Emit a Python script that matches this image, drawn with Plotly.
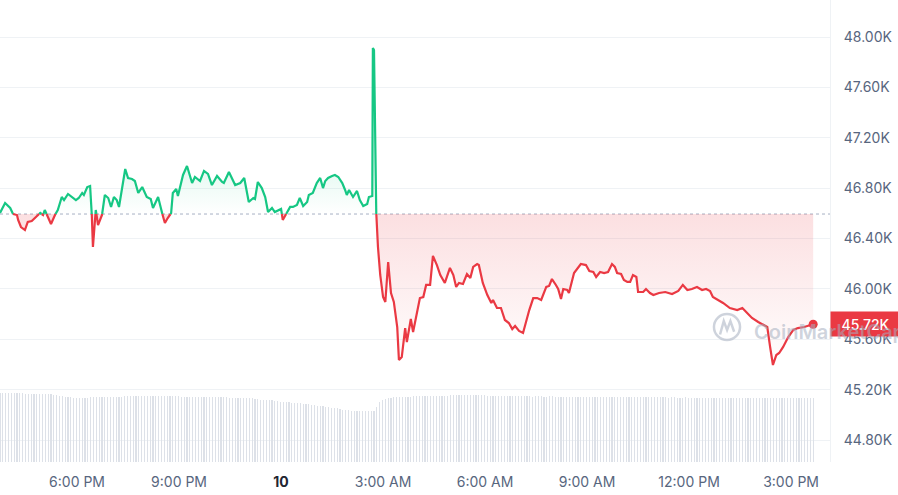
import plotly.graph_objects as go
import pandas as pd

START = pd.Timestamp("2024-02-09 15:44")

# minutes after START
minutes = [
    0, 9, 18, 23, 30, 32, 37, 44, 49, 56,
    65, 71, 76, 79, 83, 90, 97, 102, 109, 113,
    120, 127, 134, 139, 145, 148, 154, 159, 162, 164,
    169, 173, 180, 185, 191, 196, 201, 206, 210, 215,
    221, 226, 233, 238, 244, 251, 259, 266, 270, 279,
    286, 291, 296, 302, 305, 311, 314, 323, 330, 339,
    344, 353, 360, 367, 374, 383, 392, 395, 404, 415,
    424, 431, 439, 447, 450, 455, 462, 468, 473, 480,
    485, 491, 496, 499, 507, 512, 517, 524, 529, 535,
    542, 545, 552, 559, 565, 570, 574, 579, 586, 591,
    597, 604, 609, 612, 616, 623, 630, 635, 641, 648,
    651, 657, 658, 660, 664, 667, 671, 676, 680, 685,
    690, 695, 701, 704, 709, 715, 718, 725, 729, 736,
    741, 747, 752, 759, 764, 771, 777, 785, 794, 800,
    805, 810, 817, 824, 830, 835, 842, 845, 852, 860,
    867, 870, 877, 884, 891, 898, 904, 909, 916, 923,
    928, 934, 941, 948, 955, 964, 969, 974, 981, 985,
    990, 994, 1001, 1004, 1013, 1018, 1025, 1034, 1040, 1047,
    1052, 1059, 1066, 1073, 1080, 1085, 1089, 1096, 1101, 1107,
    1112, 1117, 1123, 1126, 1135, 1140, 1147, 1153, 1163, 1174,
    1186, 1197, 1205, 1213, 1221, 1230, 1239, 1246, 1253, 1258,
    1276, 1288, 1301, 1310, 1318, 1327, 1338, 1347, 1354, 1359,
    1364, 1370, 1375, 1382, 1391, 1400, 1408, 1419, 1435,
]

prices = [
    46603, 46682, 46643, 46595, 46587, 46548, 46492, 46468, 46532, 46540,
    46579, 46603, 46587, 46627, 46587, 46516, 46587, 46627, 46730, 46706,
    46754, 46730, 46706, 46722, 46762, 46746, 46809, 46817, 46587, 46333,
    46627, 46508, 46587, 46746, 46722, 46651, 46730, 46706, 46651, 46786,
    46952, 46881, 46873, 46857, 46762, 46809, 46730, 46714, 46643, 46730,
    46603, 46524, 46563, 46603, 46762, 46794, 46738, 46905, 46976, 46841,
    46889, 46857, 46937, 46913, 46825, 46897, 46849, 46841, 46929, 46825,
    46841, 46881, 46690, 46722, 46714, 46849, 46801, 46730, 46611, 46643,
    46611, 46627, 46635, 46548, 46611, 46651, 46651, 46667, 46722, 46659,
    46690, 46746, 46762, 46841, 46881, 46801, 46857, 46881, 46897, 46905,
    46889, 46841, 46786, 46746, 46786, 46730, 46778, 46706, 46659, 46675,
    46730, 46738, 47913, 47897, 46603, 46333, 46111, 45936, 45897, 46214,
    45968, 45897, 45698, 45436, 45460, 45690, 45579, 45762, 45659, 45833,
    45928, 45936, 46032, 46032, 46262, 46190, 46111, 46048, 46167, 46111,
    46016, 46048, 46040, 46119, 46087, 46175, 46198, 46190, 46048, 45952,
    45889, 45913, 45849, 45849, 45754, 45730, 45682, 45706, 45667, 45651,
    45738, 45833, 45928, 45928, 45913, 46016, 46024, 46079, 46032, 46000,
    45920, 46000, 45992, 45968, 46127, 46159, 46198, 46190, 46143, 46135,
    46095, 46135, 46127, 46135, 46198, 46175, 46127, 46119, 46071, 46056,
    46056, 46111, 46095, 45976, 45976, 46000, 45968, 45952, 45968, 45976,
    45960, 45984, 46032, 45992, 46000, 46016, 45992, 46000, 45984, 45936,
    45889, 45849, 45833, 45849, 45809, 45770, 45738, 45714, 45698, 45540,
    45397, 45476, 45492, 45540, 45619, 45675, 45690, 45698, 45720,
]

open_price = 46595
last_price = 45720
last_label = "45.72K"

# 24h volume (billion USD), one bar per 5 minutes
volume_bn = [
    34.5, 34.6, 34.5, 34.5, 34.4, 34.5, 34.5, 34.4, 34.3, 34.2,
    34.0, 34.0, 34.1, 34.0, 33.9, 34.0, 34.0, 33.9, 33.8, 33.6,
    33.4, 33.2, 33.0, 32.7, 32.5, 32.4, 32.1, 32.0, 32.0, 31.9,
    32.0, 32.2, 32.4, 32.5, 32.5, 32.6, 32.5, 32.5, 32.6, 32.6,
    32.5, 32.5, 32.6, 32.7, 32.8, 32.8, 32.9, 33.0, 33.0, 33.0,
    33.0, 33.1, 33.0, 33.0, 33.0, 33.0, 33.0, 32.9, 33.0, 33.0,
    32.9, 32.9, 32.8, 32.8, 32.7, 32.7, 32.6, 32.5, 32.5, 32.5,
    32.5, 32.6, 32.5, 32.5, 32.4, 32.4, 32.5, 32.4, 32.3, 32.3,
    32.3, 32.2, 32.2, 32.1, 32.2, 32.1, 32.0, 32.0, 31.9, 31.8,
    31.6, 31.4, 31.2, 31.1, 31.0, 30.9, 30.8, 30.6, 30.4, 30.2,
    30.0, 29.9, 29.8, 29.7, 29.6, 29.5, 29.3, 29.1, 29.0, 28.8,
    28.6, 28.4, 28.2, 28.0, 27.8, 27.6, 27.4, 27.2, 27.0, 26.8,
    26.5, 26.2, 26.0, 25.8, 25.6, 25.5, 25.4, 25.3, 25.3, 25.3,
    25.3, 25.3, 25.5, 27.5, 29.8, 31.2, 31.6, 31.9, 32.2, 32.4,
    32.5, 32.5, 32.6, 32.6, 32.7, 32.7, 32.8, 32.8, 32.9, 33.0,
    33.0, 33.0, 33.1, 33.1, 33.0, 33.1, 33.2, 33.2, 33.2, 33.3,
    33.3, 33.3, 33.3, 33.4, 33.3, 33.3, 33.3, 33.4, 33.4, 33.3,
    33.3, 33.3, 33.2, 33.2, 33.2, 33.1, 33.1, 33.0, 33.0, 33.0,
    32.9, 32.9, 32.8, 32.8, 32.8, 32.9, 32.8, 32.8, 32.7, 32.8,
    32.8, 32.8, 32.7, 32.7, 32.8, 32.8, 32.7, 32.7, 32.7, 32.6,
    32.6, 32.6, 32.7, 32.6, 32.6, 32.6, 32.5, 32.5, 32.6, 32.5,
    32.5, 32.5, 32.5, 32.4, 32.5, 32.5, 32.5, 32.4, 32.4, 32.5,
    32.5, 32.4, 32.4, 32.4, 32.5, 32.4, 32.4, 32.3, 32.4, 32.4,
    32.3, 32.3, 32.4, 32.3, 32.3, 32.3, 32.2, 32.3, 32.3, 32.2,
    32.2, 32.2, 32.3, 32.2, 32.2, 32.2, 32.1, 32.2, 32.2, 32.2,
    32.1, 32.1, 32.2, 32.1, 32.1, 32.1, 32.1, 32.0, 32.1, 32.1,
    32.1, 32.0, 32.0, 32.1, 32.0, 32.0, 32.0, 32.0, 32.1, 32.0,
    32.0, 32.0, 31.9, 32.0, 32.0, 31.9, 32.0, 32.0, 31.9, 32.0,
    32.0, 32.0, 31.9, 32.0, 32.0, 31.9, 32.0, 32.0,
]

y_tick_vals = [44800, 45200, 45600, 46000, 46400, 46800, 47200, 47600, 48000]
y_tick_text = ["44.80K", "45.20K", "45.60K", "46.00K", "46.40K",
               "46.80K", "47.20K", "47.60K", "48.00K"]
x_tick_times = ["2024-02-09 18:00", "2024-02-09 21:00", "2024-02-10 00:00",
                "2024-02-10 03:00", "2024-02-10 06:00", "2024-02-10 09:00",
                "2024-02-10 12:00", "2024-02-10 15:00"]
x_tick_text = ["6:00 PM", "9:00 PM", "<b><span style='color:#222531'>10</span></b>",
               "3:00 AM", "6:00 AM", "9:00 AM", "12:00 PM", "3:00 PM"]

GREEN = "#16c784"
RED = "#ea3943"
TEXT = "#58667e"
GRID = "#eff2f5"
FONT = "Inter"
WATERMARK = "rgba(165,175,192,0.55)"

n = min(len(minutes), len(prices))
t = minutes[:n]
p = prices[:n]

# insert crossings of the open-price baseline so colours switch cleanly
ts, ps = [t[0]], [p[0]]
for i in range(1, n):
    a, b = p[i - 1] - open_price, p[i] - open_price
    if a * b < 0:
        f = a / (a - b)
        ts.append(t[i - 1] + f * (t[i] - t[i - 1]))
        ps.append(open_price)
    ts.append(t[i])
    ps.append(p[i])

times = [START + pd.Timedelta(minutes=m) for m in ts]
base = [open_price] * len(ps)
above = [max(v, open_price) for v in ps]
below = [min(v, open_price) for v in ps]
green_line = [v if v >= open_price else None for v in ps]
red_line = [v if v <= open_price else None for v in ps]

vol_times = [START + pd.Timedelta(minutes=5 * i) for i in range(len(volume_bn))]

fig = go.Figure()

fig.add_trace(go.Bar(
    x=vol_times, y=volume_bn, yaxis="y", width=130000,
    marker=dict(color="#dde1e8", line=dict(width=0)),
    hoverinfo="skip", showlegend=False,
))

fig.add_trace(go.Scatter(x=times, y=base, yaxis="y2", mode="lines",
                         line=dict(width=0), hoverinfo="skip", showlegend=False))
fig.add_trace(go.Scatter(
    x=times, y=above, yaxis="y2", mode="lines", line=dict(width=0),
    fill="tonexty",
    fillgradient=dict(type="vertical", start=open_price, stop=47000,
                      colorscale=[[0, "rgba(22,199,132,0)"], [1, "rgba(22,199,132,0.12)"]]),
    hoverinfo="skip", showlegend=False,
))
fig.add_trace(go.Scatter(x=times, y=base, yaxis="y2", mode="lines",
                         line=dict(width=0), hoverinfo="skip", showlegend=False))
fig.add_trace(go.Scatter(
    x=times, y=below, yaxis="y2", mode="lines", line=dict(width=0),
    fill="tonexty",
    fillgradient=dict(type="vertical", start=45350, stop=open_price,
                      colorscale=[[0, "rgba(234,57,67,0)"], [1, "rgba(234,57,67,0.16)"]]),
    hoverinfo="skip", showlegend=False,
))

fig.add_trace(go.Scatter(x=times, y=green_line, yaxis="y2", mode="lines",
                         line=dict(color=GREEN, width=2.2), connectgaps=False,
                         showlegend=False))
fig.add_trace(go.Scatter(x=times, y=red_line, yaxis="y2", mode="lines",
                         line=dict(color=RED, width=2.2), connectgaps=False,
                         showlegend=False))
fig.add_trace(go.Scatter(x=[times[-1]], y=[last_price], yaxis="y2", mode="markers",
                         marker=dict(color=RED, size=9), showlegend=False))

x_end = START + pd.Timedelta(minutes=1464.7)

fig.update_layout(
    width=898, height=495,
    margin=dict(l=0, r=68, t=0, b=33),
    paper_bgcolor="white", plot_bgcolor="white",
    font=dict(family=FONT, size=14, color=TEXT),
    showlegend=False,
    bargap=0,
    hovermode=False,
    xaxis=dict(
        type="date", range=[START, x_end],
        showgrid=False, zeroline=False, showline=False,
        tickmode="array", tickvals=x_tick_times, ticktext=x_tick_text,
        ticks="", ticklabelstandoff=10,
        tickfont=dict(family=FONT, size=14, color=TEXT),
    ),
    yaxis=dict(range=[0, 231], visible=False, fixedrange=True),
    yaxis2=dict(
        overlaying="y", side="right", range=[44626.8, 48293.7],
        tickmode="array", tickvals=y_tick_vals, ticktext=y_tick_text,
        showgrid=True, gridcolor=GRID, gridwidth=1,
        zeroline=False, showline=True, linecolor=GRID, linewidth=1,
        ticks="", ticklabelstandoff=10, automargin=False,
        tickfont=dict(family=FONT, size=14, color=TEXT),
    ),
    shapes=[
        dict(type="line", xref="paper", x0=0, x1=1, yref="y2",
             y0=open_price, y1=open_price, layer="below",
             line=dict(color="#a6b0c3", width=1, dash="dot")),
        # watermark logo (circle + wave)
        dict(type="circle", xref="paper", yref="paper",
             x0=0.8602, x1=0.8916, y0=0.2641, y1=0.3203,
             line=dict(color=WATERMARK, width=2.5)),
        dict(type="path", xref="paper", yref="paper",
             path="M 0.8675,0.2760 L 0.8720,0.3050 L 0.8760,0.2860 L 0.8800,0.3050 L 0.8845,0.2820",
             line=dict(color=WATERMARK, width=2.5)),
    ],
    annotations=[
        dict(xref="paper", x=1, xanchor="left", yref="y2", y=last_price,
             text=last_label, showarrow=False, bgcolor=RED,
             font=dict(family=FONT, size=14, color="white", weight=500),
             width=61, height=16, borderpad=4, align="center"),
        dict(xref="paper", x=0.906, xanchor="left", yref="y2", y=45660,
             yanchor="middle", text="CoinMarketCap", showarrow=False,
             font=dict(family=FONT, size=20, color=WATERMARK, weight=600)),
    ],
)

fig.write_html("out.html",
               config={"displayModeBar": False, "staticPlot": True},
               post_script="document.body.style.margin='0';document.body.style.overflow='hidden';")
